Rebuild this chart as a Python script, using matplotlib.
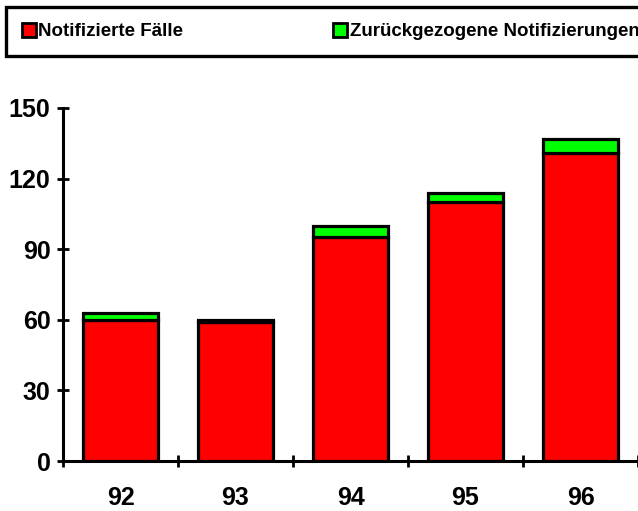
import matplotlib
matplotlib.use("Agg")
import matplotlib.pyplot as plt  # noqa: E402
import numpy as np  # noqa: E402

plt.rcParams["font.family"] = ["Liberation Sans", "DejaVu Sans"]
plt.rcParams["font.weight"] = "bold"

years = ["92", "93", "94", "95", "96"]
notified = [60, 59, 95, 110, 131]
withdrawn = [3, 1, 5, 4, 6]
yticks = [0, 30, 60, 90, 120, 150]

RED = "#ff0000"
GREEN = "#00ff00"

fig = plt.figure(figsize=(6.38, 5.11), dpi=100)
ax = fig.add_axes([63 / 638, 50 / 511, 1 - 63 / 638, 353 / 511])

x = np.arange(len(years))
b1 = ax.bar(x, notified, 0.65, color=RED, edgecolor="black", linewidth=2.3,
            label="Notifizierte Fälle", zorder=3)
b2 = ax.bar(x, withdrawn, 0.65, bottom=notified, color=GREEN, edgecolor="black",
            linewidth=2.3, label="Zurückgezogene Notifizierungen", zorder=3)

ax.set_xlim(-0.5, len(years) - 0.5)
ax.set_ylim(0, 150)
ax.set_yticks(yticks)
ax.set_xticks(x)
ax.set_xticklabels(years)
ax.set_xticks(np.arange(len(years) + 1) - 0.5, minor=True)
ax.tick_params(axis="x", which="major", length=0, pad=18, labelsize=18)
ax.tick_params(axis="x", which="minor", direction="inout", length=8, width=2)
ax.tick_params(axis="y", direction="inout", length=8, width=2, pad=5, labelsize=18)

for s in ("top", "right"):
    ax.spines[s].set_visible(False)
for s in ("left", "bottom"):
    ax.spines[s].set_linewidth(2.2)
    ax.spines[s].set_zorder(4)
    ax.spines[s].set_clip_on(False)

leg = fig.legend(handles=[b1, b2], loc="upper left",
                 bbox_to_anchor=(6 / 638, 1 - 7 / 511), ncol=2,
                 fontsize=13.5, handlelength=0.75, handleheight=0.75,
                 handletextpad=0.12, columnspacing=8.0, borderpad=0.85,
                 borderaxespad=0, fancybox=False, frameon=True, framealpha=1)
frame = leg.get_frame()
frame.set_edgecolor("black")
frame.set_linewidth(2.4)
for p in leg.get_patches():
    p.set_linewidth(2.0)

fig.savefig("out.png", dpi=100)
